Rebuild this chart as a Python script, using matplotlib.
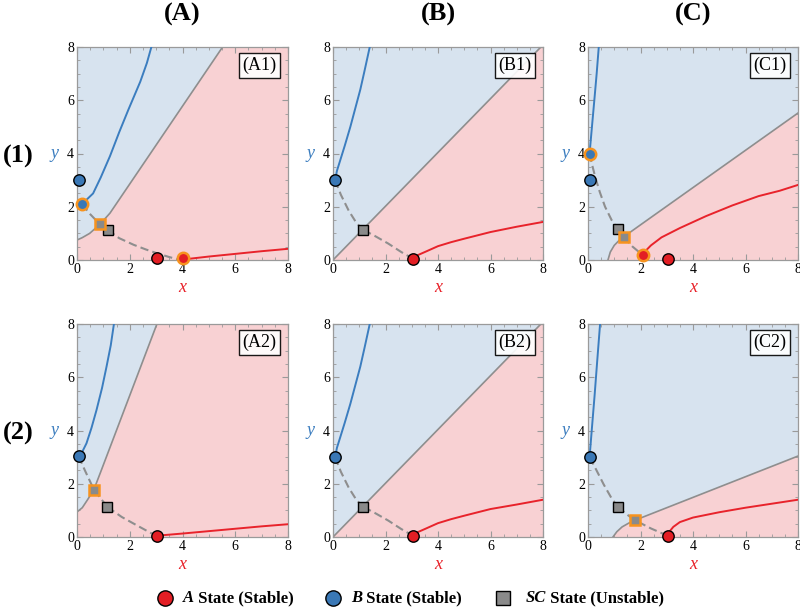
import matplotlib
matplotlib.use("Agg")
import matplotlib.pyplot as plt
from matplotlib.ticker import MultipleLocator

# ---------------- data ----------------
panel_names = ["(A1)", "(B1)", "(C1)", "(A2)", "(B2)", "(C2)"]
col_titles = ["(A)", "(B)", "(C)"]
row_titles = ["(1)", "(2)"]
ticks = [0, 2, 4, 6, 8]

# A1
A1_sep_x = [0.0, 0.2, 0.48, 0.87, 1.25, 5.52]
A1_sep_y = [0.75, 0.84, 1.0, 1.34, 1.76, 8.0]
A1_blue_x = [0.19, 0.4, 0.61, 0.9, 1.25, 1.6, 1.95, 2.4, 2.65, 2.82]
A1_blue_y = [2.1, 2.3, 2.5, 3.1, 3.9, 4.8, 5.65, 6.7, 7.4, 8.0]
A1_red_x = [4.03, 5.0, 6.0, 7.0, 8.0]
A1_red_y = [0.02, 0.13, 0.23, 0.33, 0.42]
A1_dash1_x = [0.19, 0.5, 0.87]
A1_dash1_y = [2.1, 1.72, 1.34]
A1_dash2_x = [1.16, 1.6, 2.15, 2.6, 3.04, 3.5, 3.8, 4.03]
A1_dash2_y = [1.13, 0.82, 0.57, 0.4, 0.25, 0.11, 0.03, 0.02]
A1_red_pts = [(3.04, 0.06)]
A1_blue_pts = [(0.06, 3.0)]
A1_sq_pts = [(1.16, 1.13)]
A1_red_o = [(4.03, 0.06)]
A1_blue_o = [(0.19, 2.1)]
A1_sq_o = [(0.87, 1.34)]

# B1
B1_sep_x = [0.0, 7.92]
B1_sep_y = [0.0, 8.0]
B1_blue_x = [0.08, 0.15, 0.28, 0.45, 0.66, 0.85, 1.04, 1.2, 1.4]
B1_blue_y = [3.0, 3.35, 3.76, 4.3, 5.0, 5.7, 6.4, 7.1, 8.0]
B1_red_x = [3.04, 3.2, 3.5, 4.0, 4.5, 5.0, 6.0, 7.0, 8.0]
B1_red_y = [0.05, 0.17, 0.3, 0.52, 0.67, 0.8, 1.05, 1.25, 1.43]
B1_dash1_x = [0.08, 0.3, 0.6, 0.9, 1.16]
B1_dash1_y = [3.0, 2.45, 1.85, 1.38, 1.13]
B1_dash2_x = [1.16, 1.6, 2.1, 2.6, 3.04]
B1_dash2_y = [1.13, 0.9, 0.62, 0.3, 0.05]
B1_red_pts = [(3.04, 0.05)]
B1_blue_pts = [(0.08, 3.0)]
B1_sq_pts = [(1.16, 1.13)]
B1_red_o = []
B1_blue_o = []
B1_sq_o = []

# C1
C1_sep_x = [0.76, 0.85, 1.0, 1.2, 1.36, 2.0, 8.0]
C1_sep_y = [0.0, 0.3, 0.55, 0.75, 0.87, 1.32, 5.52]
C1_blue_x = [0.06, 0.15, 0.25, 0.33, 0.41]
C1_blue_y = [4.0, 5.0, 6.1, 7.0, 8.0]
C1_red_x = [2.09, 2.2, 2.4, 2.8, 3.5, 4.5, 5.5, 6.5, 7.3, 8.0]
C1_red_y = [0.18, 0.35, 0.55, 0.85, 1.2, 1.65, 2.05, 2.4, 2.6, 2.82]
C1_dash1_x = [0.06, 0.15, 0.28, 0.45, 0.65, 0.9, 1.14]
C1_dash1_y = [3.99, 3.6, 3.1, 2.55, 2.0, 1.5, 1.15]
C1_dash2_x = [1.36, 1.7, 2.09]
C1_dash2_y = [0.87, 0.5, 0.18]
C1_red_pts = [(3.03, 0.05)]
C1_blue_pts = [(0.06, 3.02)]
C1_sq_pts = [(1.14, 1.15)]
C1_red_o = [(2.09, 0.18)]
C1_blue_o = [(0.06, 3.99)]
C1_sq_o = [(1.36, 0.87)]

# A2
A2_sep_x = [0.0, 0.2, 0.4, 0.64, 0.9, 3.03]
A2_sep_y = [0.94, 1.1, 1.4, 1.78, 2.45, 8.0]
A2_blue_x = [0.06, 0.2, 0.36, 0.55, 0.74, 0.95, 1.12, 1.28, 1.4]
A2_blue_y = [3.04, 3.2, 3.52, 4.1, 4.77, 5.6, 6.4, 7.2, 8.0]
A2_red_x = [3.04, 4.0, 5.0, 6.0, 7.0, 8.0]
A2_red_y = [0.05, 0.13, 0.22, 0.31, 0.4, 0.48]
A2_dash1_x = [0.06, 0.3, 0.64, 1.15]
A2_dash1_y = [3.04, 2.5, 1.78, 1.13]
A2_dash2_x = [1.15, 1.7, 2.3, 2.8, 3.04]
A2_dash2_y = [1.13, 0.75, 0.42, 0.15, 0.05]
A2_red_pts = [(3.04, 0.05)]
A2_blue_pts = [(0.06, 3.04)]
A2_sq_pts = [(1.15, 1.13)]
A2_red_o = []
A2_blue_o = []
A2_sq_o = [(0.64, 1.78)]

# B2
B2_sep_x = [0.0, 7.92]
B2_sep_y = [0.0, 8.0]
B2_blue_x = [0.08, 0.15, 0.28, 0.45, 0.66, 0.85, 1.04, 1.2, 1.4]
B2_blue_y = [3.0, 3.35, 3.76, 4.3, 5.0, 5.7, 6.4, 7.1, 8.0]
B2_red_x = [3.04, 3.2, 3.5, 4.0, 4.5, 5.0, 6.0, 7.0, 8.0]
B2_red_y = [0.05, 0.17, 0.3, 0.52, 0.67, 0.8, 1.05, 1.22, 1.4]
B2_dash1_x = [0.08, 0.3, 0.6, 0.9, 1.16]
B2_dash1_y = [3.0, 2.45, 1.85, 1.38, 1.13]
B2_dash2_x = [1.16, 1.6, 2.1, 2.6, 3.04]
B2_dash2_y = [1.13, 0.9, 0.62, 0.3, 0.05]
B2_red_pts = [(3.04, 0.05)]
B2_blue_pts = [(0.08, 3.0)]
B2_sq_pts = [(1.16, 1.13)]
B2_red_o = []
B2_blue_o = []
B2_sq_o = []

# C2
C2_sep_x = [0.95, 1.1, 1.3, 1.55, 1.79, 8.0]
C2_sep_y = [0.0, 0.2, 0.38, 0.52, 0.63, 3.04]
C2_blue_x = [0.06, 0.15, 0.25, 0.35, 0.46]
C2_blue_y = [3.0, 4.1, 5.3, 6.6, 8.0]
C2_red_x = [3.03, 3.1, 3.25, 3.5, 4.0, 5.0, 6.0, 7.0, 8.0]
C2_red_y = [0.05, 0.2, 0.38, 0.56, 0.73, 0.93, 1.1, 1.25, 1.4]
C2_dash1_x = [0.06, 0.3, 0.6, 0.9, 1.14]
C2_dash1_y = [3.0, 2.55, 1.97, 1.45, 1.13]
C2_dash2_x = [1.14, 1.45, 1.79, 2.4, 3.03]
C2_dash2_y = [1.13, 0.87, 0.63, 0.32, 0.05]
C2_red_pts = [(3.03, 0.05)]
C2_blue_pts = [(0.06, 3.01)]
C2_sq_pts = [(1.14, 1.13)]
C2_red_o = []
C2_blue_o = []
C2_sq_o = [(1.79, 0.63)]

legend_labels = [("A", " State (Stable)"), ("B", " State (Stable)"), ("SC", " State (Unstable)")]

# ---------------- styling ----------------
BLUE_BG = "#d7e3ef"
PINK_BG = "#f8d1d3"
SEP_C = "#8e8e8e"
BLUE_L = "#3b7dbf"
RED_L = "#e8232b"
RED_F = "#e31e24"
BLUE_F = "#3a78b6"
SQ_F = "#8a8a8a"
ORANGE = "#f7931e"
SERIF = ["Liberation Serif", "DejaVu Serif"]

W, H = 800, 614
fig = plt.figure(figsize=(W / 100, H / 100), dpi=100)

def rect(l, t, r, b):
    return [l / W, (H - b) / H, (r - l) / W, (b - t) / H]

cols_px = [(77, 288), (333, 543), (588, 798)]
rows_px = [(47, 260), (324, 537)]

panels = {
    "(A1)": (A1_sep_x, A1_sep_y, A1_blue_x, A1_blue_y, A1_red_x, A1_red_y,
             A1_dash1_x, A1_dash1_y, A1_dash2_x, A1_dash2_y,
             A1_red_pts, A1_blue_pts, A1_sq_pts, A1_red_o, A1_blue_o, A1_sq_o),
    "(B1)": (B1_sep_x, B1_sep_y, B1_blue_x, B1_blue_y, B1_red_x, B1_red_y,
             B1_dash1_x, B1_dash1_y, B1_dash2_x, B1_dash2_y,
             B1_red_pts, B1_blue_pts, B1_sq_pts, B1_red_o, B1_blue_o, B1_sq_o),
    "(C1)": (C1_sep_x, C1_sep_y, C1_blue_x, C1_blue_y, C1_red_x, C1_red_y,
             C1_dash1_x, C1_dash1_y, C1_dash2_x, C1_dash2_y,
             C1_red_pts, C1_blue_pts, C1_sq_pts, C1_red_o, C1_blue_o, C1_sq_o),
    "(A2)": (A2_sep_x, A2_sep_y, A2_blue_x, A2_blue_y, A2_red_x, A2_red_y,
             A2_dash1_x, A2_dash1_y, A2_dash2_x, A2_dash2_y,
             A2_red_pts, A2_blue_pts, A2_sq_pts, A2_red_o, A2_blue_o, A2_sq_o),
    "(B2)": (B2_sep_x, B2_sep_y, B2_blue_x, B2_blue_y, B2_red_x, B2_red_y,
             B2_dash1_x, B2_dash1_y, B2_dash2_x, B2_dash2_y,
             B2_red_pts, B2_blue_pts, B2_sq_pts, B2_red_o, B2_blue_o, B2_sq_o),
    "(C2)": (C2_sep_x, C2_sep_y, C2_blue_x, C2_blue_y, C2_red_x, C2_red_y,
             C2_dash1_x, C2_dash1_y, C2_dash2_x, C2_dash2_y,
             C2_red_pts, C2_blue_pts, C2_sq_pts, C2_red_o, C2_blue_o, C2_sq_o),
}

MS = 8.2
for i, name in enumerate(panel_names):
    r, c = divmod(i, 3)
    ax = fig.add_axes(rect(cols_px[c][0], rows_px[r][0], cols_px[c][1], rows_px[r][1]))
    (sx, sy, bx, by, rx, ry, d1x, d1y, d2x, d2y,
     rp, bp, qp, ro, bo, qo) = panels[name]
    ax.set_xlim(0, 8)
    ax.set_ylim(0, 8)
    ax.set_facecolor(BLUE_BG)
    # pink region below the separatrix
    px = list(sx)
    py = list(sy)
    if py[-1] >= 8:
        px += [8]
        py += [8]
    px += [8, 0]
    py += [0, 0]
    ax.fill(px, py, color=PINK_BG, lw=0, zorder=1)
    ax.plot(sx, sy, color=SEP_C, lw=1.2, zorder=2)
    ax.plot(bx, by, color=BLUE_L, lw=1.4, zorder=3)
    ax.plot(rx, ry, color=RED_L, lw=1.4, zorder=3)
    ax.plot(d1x, d1y, color=SEP_C, lw=1.5, ls=(0, (4, 2)), zorder=3)
    ax.plot(d2x, d2y, color=SEP_C, lw=1.5, ls=(0, (4, 2)), zorder=3)
    for pts, mk, fc, ec, ms in [
        (rp, "o", RED_F, "black", MS), (bp, "o", BLUE_F, "black", MS),
        (qp, "s", SQ_F, "black", MS * 0.95),
        (ro, "o", RED_F, ORANGE, MS), (bo, "o", BLUE_F, ORANGE, MS),
        (qo, "s", SQ_F, ORANGE, MS * 0.95)]:
        for (x, y) in pts:
            ax.plot([x], [y], marker=mk, ms=ms, mfc=fc,
                    mec=ec, mew=1.0 if ec == "black" else 1.8,
                    ls="none", zorder=5, clip_on=False)
    ax.set_xticks(ticks)
    ax.set_yticks(ticks)
    ax.xaxis.set_minor_locator(MultipleLocator(0.5))
    ax.yaxis.set_minor_locator(MultipleLocator(0.5))
    ax.tick_params(which="both", direction="in", top=True, right=True,
                   color="#9a9a9a", labelsize=10)
    ax.tick_params(which="major", length=4, width=0.8, pad=2)
    ax.tick_params(which="minor", length=2, width=0.6)
    for lab in ax.get_xticklabels() + ax.get_yticklabels():
        lab.set_fontfamily(SERIF)
    for sp in ax.spines.values():
        sp.set_color("#9a9a9a")
        sp.set_linewidth(0.9)
    ax.set_xlabel("x", family=SERIF, style="italic", color=RED_L,
                  fontsize=13, labelpad=2)
    ax.set_ylabel("y", family=SERIF, style="italic", color=BLUE_L,
                  fontsize=13, rotation=0, labelpad=9, va="center")
    ax.text(0.945, 0.955, name, transform=ax.transAxes, ha="right", va="top",
            family=SERIF, fontsize=13, zorder=6,
            bbox=dict(boxstyle="square,pad=0.2", fc="white", ec="black",
                      lw=1.0, alpha=0.9))

# overlay axes in pixel coordinates for titles and legend
ov = fig.add_axes([0, 0, 1, 1], zorder=-1)
ov.set_xlim(0, W)
ov.set_ylim(H, 0)
ov.axis("off")
for c, t in enumerate(col_titles):
    ov.text((cols_px[c][0] + cols_px[c][1]) / 2, 14, t, ha="center", va="center",
            family=SERIF, fontweight="bold", fontsize=19)
for r, t in enumerate(row_titles):
    ov.text(18, (rows_px[r][0] + rows_px[r][1]) / 2 + 3, t, ha="center", va="center",
            family=SERIF, fontweight="bold", fontsize=19)

leg_y = 598
leg_marker_x = [165, 333, 503]
leg_text_x = [183, 351, 526]
leg_styles = [("o", RED_F), ("o", BLUE_F), ("s", SQ_F)]
ov2 = fig.add_axes([0, 0, 1, 1])
ov2.set_xlim(0, W)
ov2.set_ylim(H, 0)
ov2.axis("off")
for (mk, fc), mx, tx, (lab1, lab2) in zip(leg_styles, leg_marker_x, leg_text_x, legend_labels):
    ov2.plot([mx], [leg_y], marker=mk, ms=11 if mk == "o" else 10.5, mfc=fc,
             mec="black", mew=1.0, ls="none")
    t1 = ov2.text(tx, leg_y, lab1, ha="left", va="center", family=SERIF,
                  fontweight="bold", style="italic", fontsize=12)
    ov2.annotate(lab2, xy=(1, 0.5), xycoords=t1, ha="left", va="center",
                 family=SERIF, fontweight="bold", fontsize=12)

fig.savefig("out.png", dpi=100)
